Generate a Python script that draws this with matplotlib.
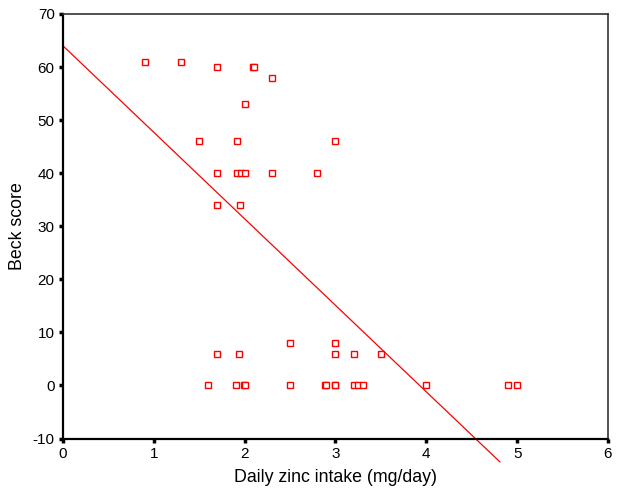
import numpy as np
import matplotlib
matplotlib.use('Agg')
import matplotlib.pyplot as plt

plt.rcParams['font.family'] = ['Liberation Sans', 'DejaVu Sans']
plt.rcParams['axes.unicode_minus'] = False

# Daily zinc intake (mg/day) and Beck score
zinc = [0.9, 1.3, 1.7, 2.09, 2.1, 2.3, 2.0, 1.5, 1.92, 3.0,
        1.7, 1.92, 1.96, 2.0, 2.3, 2.8, 1.7, 1.95,
        2.5, 3.0, 1.7, 1.94, 3.0, 3.2, 3.5,
        1.6, 1.91, 1.99, 2.0, 2.5, 2.89, 2.9, 2.99, 3.0,
        3.2, 3.25, 3.3, 4.0, 4.9, 5.0]
beck = [61, 61, 60, 60, 60, 58, 53, 46, 46, 46,
        40, 40, 40, 40, 40, 40, 34, 34,
        8, 8, 6, 6, 6, 6, 6,
        0, 0, 0, 0, 0, 0, 0, 0, 0,
        0, 0, 0, 0, 0, 0]

# fitted regression line
fit_intercept = 64.0
fit_slope = -16.3
fit_x_range = [0, 4.81]

x_ticks = [0, 1, 2, 3, 4, 5, 6]
y_ticks = [-10, 0, 10, 20, 30, 40, 50, 60, 70]

fig = plt.figure(figsize=(6.2, 4.91), dpi=100)
ax = fig.add_axes([0.1016, 0.1069, 0.8790, 0.8646])

ax.plot(zinc, beck, linestyle='none', marker='s', markersize=5,
        markerfacecolor='white', markeredgecolor='#ff0000', markeredgewidth=1.0)

fx = np.array(fit_x_range)
ax.plot(fx, fit_intercept + fit_slope * fx, color='#ff0000', linewidth=0.9, clip_on=False)

ax.set_xlim(0, 6)
ax.set_ylim(-10, 70)
ax.set_xticks(x_ticks)
ax.set_yticks(y_ticks)

for side in ['left', 'bottom']:
    ax.spines[side].set_linewidth(1.6)
    ax.spines[side].set_color('black')
for side in ['top', 'right']:
    ax.spines[side].set_linewidth(1.2)
    ax.spines[side].set_color('#333333')

ax.tick_params(direction='out', length=3, width=2.5, labelsize=11, pad=3,
               top=False, right=False)

ax.set_xlabel('Daily zinc intake (mg/day)', fontsize=12.8, labelpad=6)
ax.set_ylabel('Beck score', fontsize=12.8, labelpad=5)

fig.savefig('out.png', dpi=100)
